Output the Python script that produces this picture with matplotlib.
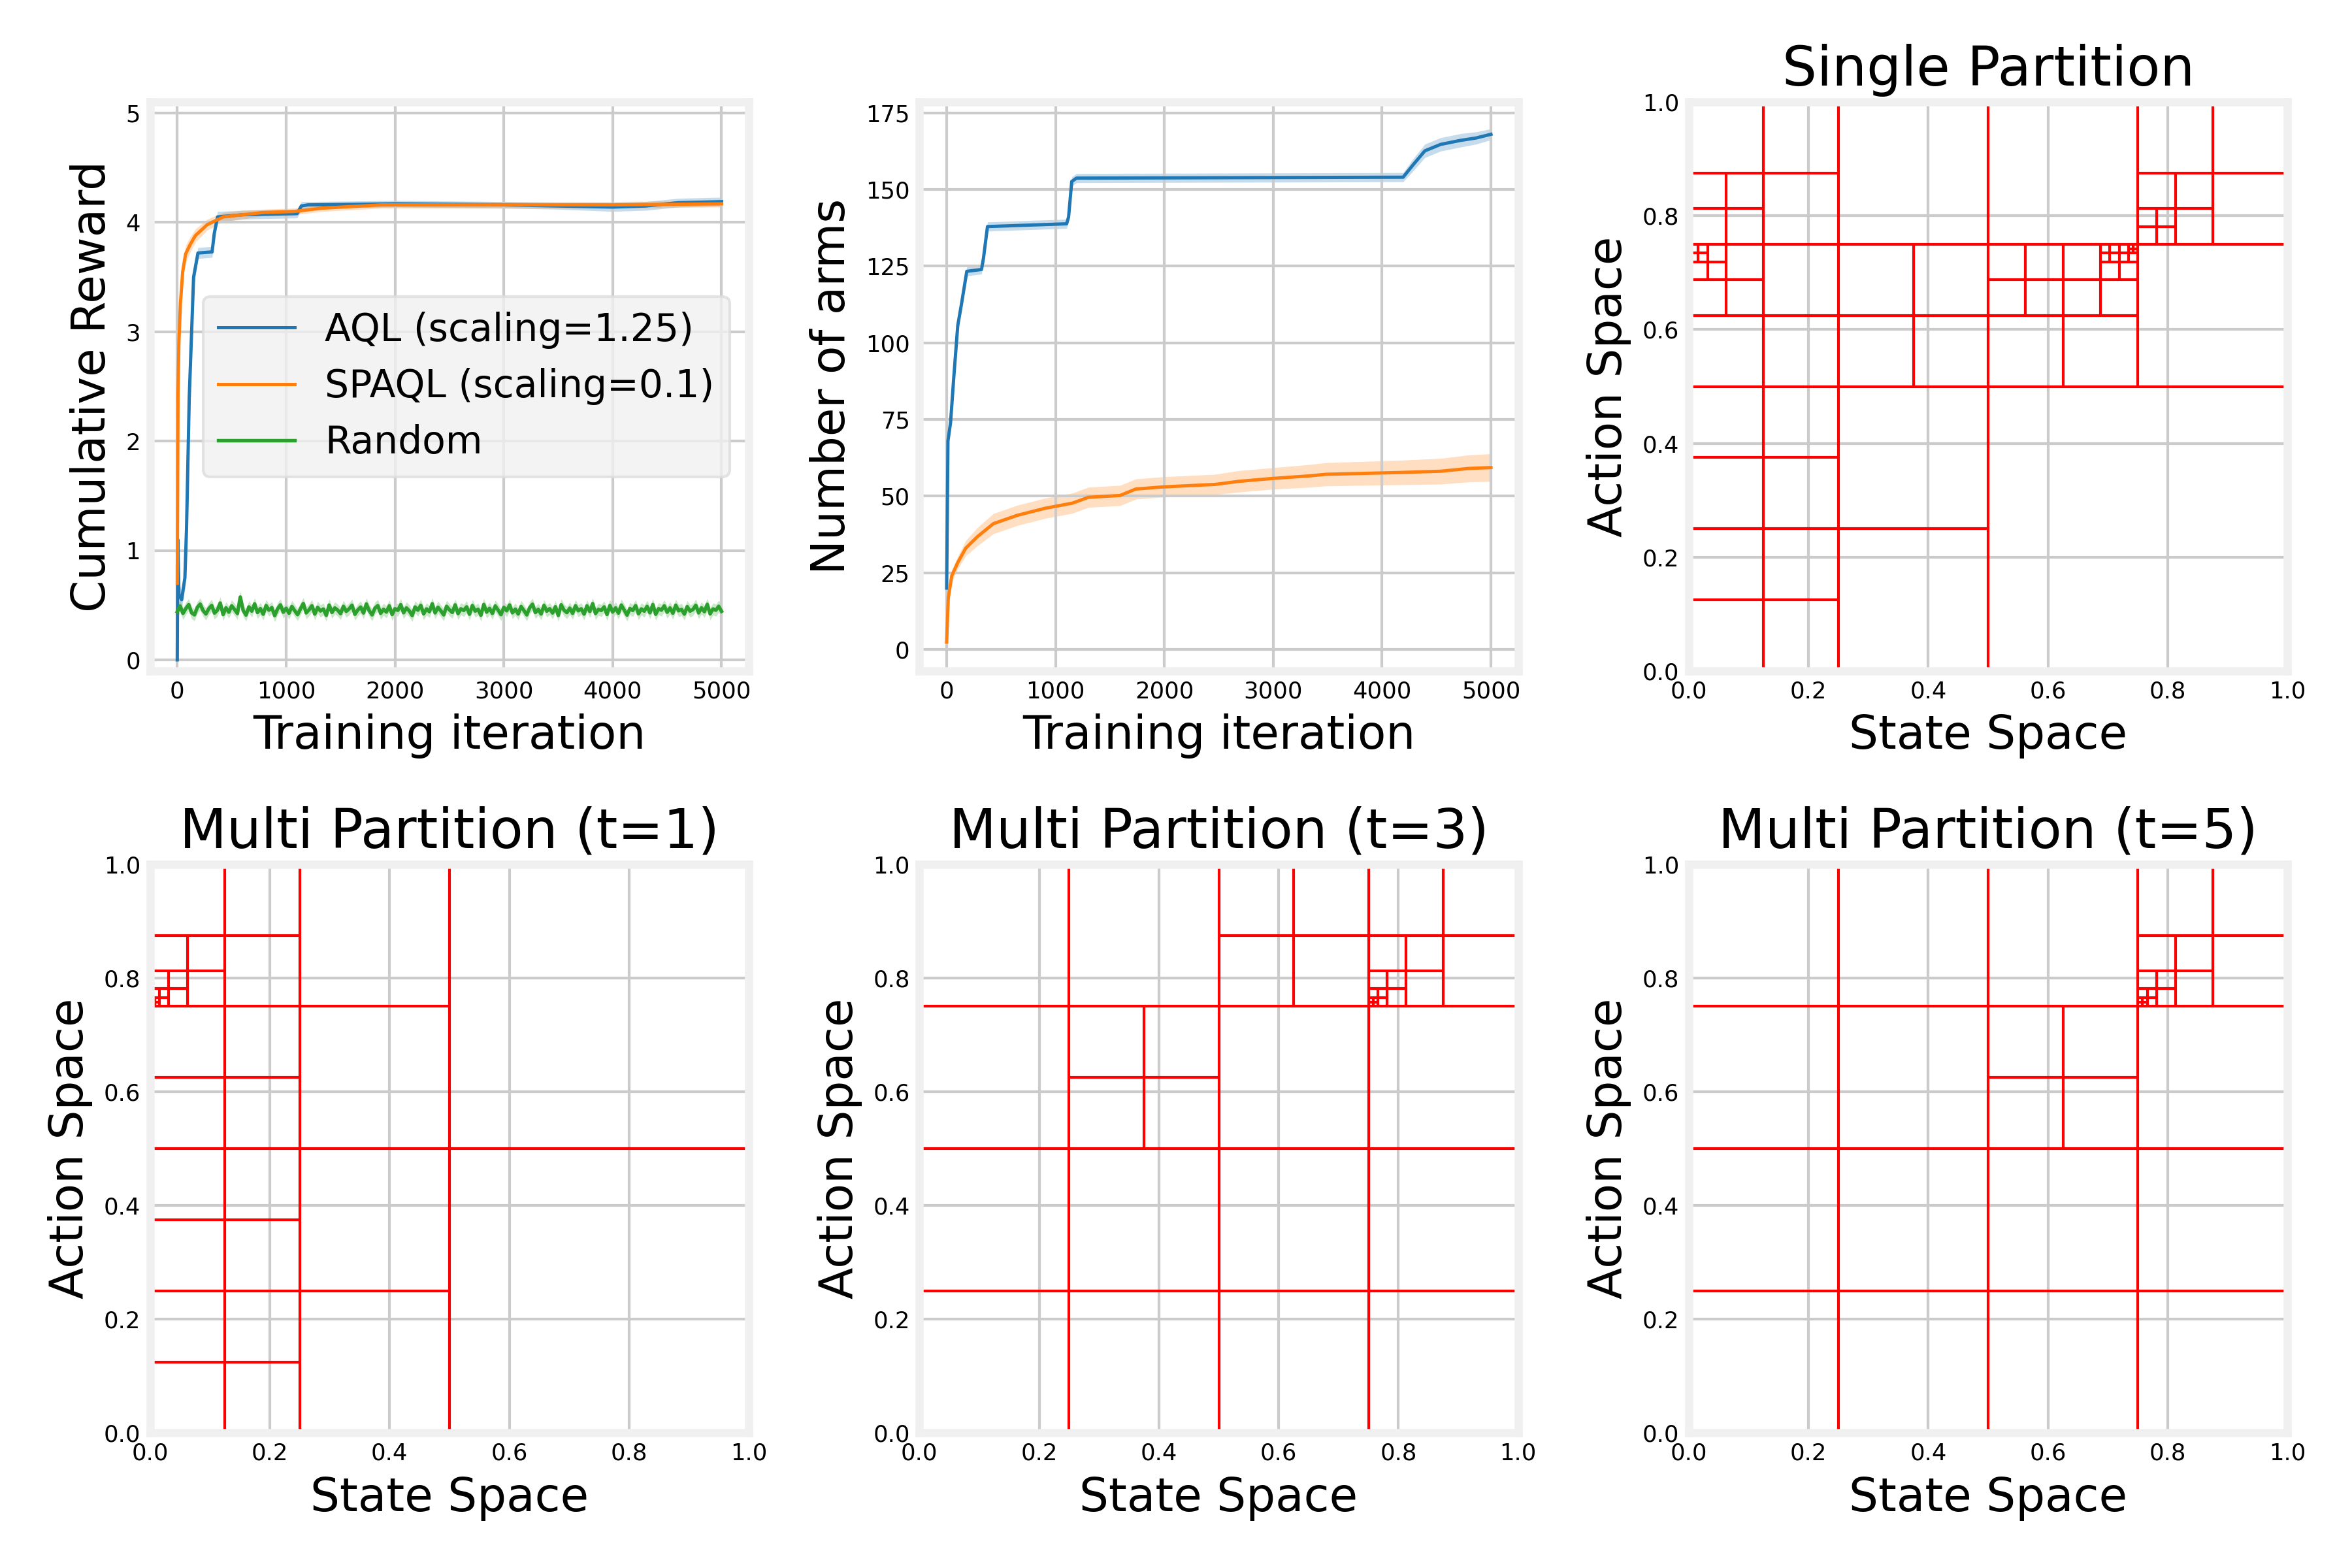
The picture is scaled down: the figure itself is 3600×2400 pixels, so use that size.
import numpy as np
import matplotlib
matplotlib.use("Agg")
import matplotlib.pyplot as plt

# ---- learning curves ----
aql_iter = [0, 5, 15, 40, 70, 85, 110, 150, 190, 320, 340, 370, 600, 1100, 1140, 1200, 2000, 3000, 3500, 4000, 4300, 4600, 5000]
aql_reward = [0.0, 1.10, 0.60, 0.55, 0.75, 1.20, 2.40, 3.50, 3.72, 3.73, 3.90, 4.05, 4.07, 4.08, 4.15, 4.16, 4.17, 4.16, 4.15, 4.14, 4.15, 4.18, 4.19]
aql_reward_err = [0.0, 0.15, 0.10, 0.08, 0.10, 0.15, 0.15, 0.10, 0.05, 0.05, 0.06, 0.05, 0.04, 0.04, 0.04, 0.03, 0.03, 0.03, 0.03, 0.04, 0.04, 0.04, 0.04]

spaql_iter = [0, 7, 15, 29, 50, 76, 120, 167, 276, 422, 600, 785, 1076, 1330, 1876, 3000, 4000, 5000]
spaql_reward = [0.70, 2.44, 2.90, 3.26, 3.55, 3.71, 3.80, 3.88, 3.98, 4.05, 4.07, 4.09, 4.10, 4.13, 4.16, 4.16, 4.16, 4.17]
spaql_reward_err = [0.10, 0.10, 0.10, 0.08, 0.08, 0.08, 0.07, 0.06, 0.05, 0.04, 0.04, 0.03, 0.03, 0.03, 0.03, 0.03, 0.03, 0.03]

# random policy reward (x1000), evenly spaced over 0..5000
random_reward = [440, 492, 425, 470, 505, 431, 412, 480, 510, 452, 420, 468, 498, 428, 455, 520, 415, 476, 437, 494,
                 461, 424, 575, 452, 410, 485, 446, 512, 433, 469, 418, 497, 455, 478, 405, 466, 503, 436, 472, 427,
                 488, 450, 414, 467, 515, 430, 458, 495, 419, 480, 447, 465, 408, 501, 434, 475, 455, 423, 490, 444,
                 467, 500, 417, 456, 483, 429, 511, 451, 412, 473, 496, 426, 462, 438, 494, 415, 468, 453, 505, 431,
                 475, 448, 406, 484, 455, 499, 421, 466, 441, 513, 430, 481, 449, 412, 490, 458, 434, 503, 423, 467,
                 452, 485, 418, 497, 446, 463, 409, 507, 437, 471, 425, 493, 455, 414, 481, 449, 502, 431, 464, 420,
                 488, 452, 412, 476, 509, 433, 462, 420, 498, 446, 468, 429, 486, 407, 504, 455, 432, 473, 426, 495,
                 449, 467, 419, 494, 443, 514, 424, 462, 452, 485, 416, 497, 438, 475, 428, 501, 457, 410, 470, 452,
                 496, 422, 466, 446, 489, 431, 506, 417, 468, 455, 494, 436, 475, 427, 500, 449, 462, 419, 487, 446,
                 461, 499, 430, 476, 441, 508, 421, 466, 454, 490, 444]
random_err = 0.055

aql_arms_iter = [0, 12, 36, 65, 102, 138, 185, 320, 338, 375, 1102, 1120, 1149, 1193, 4193, 4284, 4393, 4538, 4720, 4865, 5000]
aql_arms = [20, 68, 74, 88.5, 105.6, 113, 123.3, 123.9, 127.5, 137.9, 138.8, 141, 152.6, 153.7, 154, 158, 162.6, 164.7, 166, 166.8, 168]
aql_arms_err = [0.5, 2, 2, 2, 2, 2, 1.5, 1.5, 1.5, 1.5, 1.5, 1.5, 1.5, 1.5, 1.5, 2, 2.2, 2.2, 2.2, 2.0, 1.8]

spaql_arms_iter = [0, 15, 47, 102, 175, 284, 429, 647, 902, 1156, 1302, 1593, 1738, 1993, 2465, 2684, 2975, 3338, 3484, 4175, 4538, 4793, 5000]
spaql_arms = [2.4, 16.7, 24, 28.3, 33, 36.8, 41, 43.7, 46, 47.7, 49.6, 50.2, 52.3, 53, 53.8, 54.8, 55.7, 56.6, 57.1, 57.7, 58.1, 59, 59.3]
spaql_arms_err = [0.5, 1.5, 2, 2, 2.5, 3, 3.3, 3.3, 3.3, 3.3, 3.3, 3.3, 3.3, 3.3, 3.3, 3.5, 3.5, 3.7, 3.8, 4, 4.2, 4.4, 4.5]

# ---- partition trees: split nodes as (x, y, size) ----
single_nodes = [(0, 0, 1), (0, 0, 0.5), (0, 0, 0.25), (0, 0.25, 0.25),
                (0, 0.5, 0.5), (0, 0.75, 0.25), (0, 0.75, 0.125), (0, 0.5, 0.25),
                (0, 0.625, 0.125), (0, 0.6875, 0.0625), (0, 0.71875, 0.03125),
                (0.25, 0.5, 0.25), (0.5, 0.5, 0.5), (0.5, 0.5, 0.25),
                (0.5, 0.625, 0.125), (0.625, 0.625, 0.125), (0.6875, 0.6875, 0.0625),
                (0.6875, 0.71875, 0.03125), (0.71875, 0.71875, 0.03125),
                (0.734375, 0.734375, 0.015625),
                (0.75, 0.75, 0.25), (0.75, 0.75, 0.125), (0.75, 0.75, 0.0625)]

multi_t1_nodes = [(0, 0, 1), (0, 0, 0.5), (0, 0.5, 0.5), (0, 0, 0.25), (0, 0.25, 0.25),
                  (0, 0.5, 0.25), (0, 0.75, 0.25), (0, 0.75, 0.125), (0, 0.75, 0.0625),
                  (0, 0.75, 0.03125), (0, 0.75, 0.015625)]

multi_t3_nodes = [(0, 0, 1), (0, 0, 0.5), (0.5, 0, 0.5), (0, 0.5, 0.5), (0.5, 0.5, 0.5),
                  (0.25, 0.5, 0.25), (0.5, 0.75, 0.25), (0.75, 0.75, 0.25),
                  (0.75, 0.75, 0.125), (0.75, 0.75, 0.0625), (0.75, 0.75, 0.03125),
                  (0.75, 0.75, 0.015625)]

multi_t5_nodes = [(0, 0, 1), (0, 0, 0.5), (0.5, 0, 0.5), (0, 0.5, 0.5), (0.5, 0.5, 0.5),
                  (0.5, 0.5, 0.25), (0.75, 0.75, 0.25), (0.75, 0.75, 0.125),
                  (0.75, 0.75, 0.0625), (0.75, 0.75, 0.03125), (0.75, 0.75, 0.015625)]

partitions = [("Single Partition", single_nodes),
              ("Multi Partition (t=1)", multi_t1_nodes),
              ("Multi Partition (t=3)", multi_t3_nodes),
              ("Multi Partition (t=5)", multi_t5_nodes)]

plt.rcParams['axes.facecolor'] = 'white'
plt.rcParams['figure.facecolor'] = 'white'
plt.rcParams['axes.edgecolor'] = '#f0f0f0'
plt.rcParams['axes.linewidth'] = 3.0
plt.rcParams['grid.color'] = '#cbcbcb'
plt.rcParams['grid.linewidth'] = 1.0
plt.rcParams['xtick.major.size'] = 0
plt.rcParams['ytick.major.size'] = 0
plt.rcParams['xtick.labelsize'] = 8.5
plt.rcParams['ytick.labelsize'] = 8.5
plt.rcParams['axes.labelsize'] = 17
plt.rcParams['axes.titlesize'] = 20

fig, axes = plt.subplots(2, 3, figsize=(12, 8), dpi=300)
plt.subplots_adjust(left=0.0638, right=0.9726, bottom=0.0861, top=0.9349, wspace=0.285, hspace=0.34)

blue, orange, green = '#1f77b4', '#ff7f0e', '#2ca02c'

def band(ax, x, y, err, color, label, lw=1.2):
    y = np.array(y, dtype=float)
    err = np.array(err, dtype=float)
    ax.fill_between(x, y - err, y + err, color=color, alpha=0.25, lw=0)
    ax.plot(x, y, color=color, lw=lw, label=label)

# Cumulative reward
ax = axes[0, 0]
band(ax, aql_iter, aql_reward, aql_reward_err, blue, 'AQL (scaling=1.25)')
band(ax, spaql_iter, spaql_reward, spaql_reward_err, orange, 'SPAQL (scaling=0.1)')
rnd = np.array(random_reward) / 1000.0
rnd_x = np.linspace(0, 5000, len(rnd))
band(ax, rnd_x, rnd, np.full(len(rnd), random_err), green, 'Random', lw=1.3)
ax.set_ylim(-0.1, 5.1)
ax.set_xticks([0, 1000, 2000, 3000, 4000, 5000])
ax.set_yticks([0, 1, 2, 3, 4, 5])
ax.set_xlabel('Training iteration')
ax.set_ylabel('Cumulative Reward')
ax.grid(True)
leg = ax.legend(loc='center right', bbox_to_anchor=(1.0, 0.5), fontsize=14,
                fancybox=True, framealpha=0.8)
leg.get_frame().set_facecolor('#f0f0f0')
leg.get_frame().set_edgecolor('#dddddd')

# Number of arms
ax = axes[0, 1]
band(ax, aql_arms_iter, aql_arms, aql_arms_err, blue, 'AQL')
band(ax, spaql_arms_iter, spaql_arms, spaql_arms_err, orange, 'SPAQL')
ax.set_ylim(-7, 178.5)
ax.set_xticks([0, 1000, 2000, 3000, 4000, 5000])
ax.set_yticks([0, 25, 50, 75, 100, 125, 150, 175])
ax.set_xlabel('Training iteration')
ax.set_ylabel('Number of arms')
ax.grid(True)

# Partitions
part_axes = [axes[0, 2], axes[1, 0], axes[1, 1], axes[1, 2]]
for ax, (title, nodes) in zip(part_axes, partitions):
    for (x, y, s) in nodes:
        ax.vlines(x + s / 2, y, y + s, color='red', lw=1.0)
        ax.hlines(y + s / 2, x, x + s, color='red', lw=1.0)
    ax.set_xlim(0, 1)
    ax.set_ylim(0, 1)
    ax.set_xticks(np.arange(0, 1.01, 0.2))
    ax.set_yticks(np.arange(0, 1.01, 0.2))
    ax.set_title(title)
    ax.set_xlabel('State Space')
    ax.set_ylabel('Action Space')
    ax.grid(True)
    ax.set_axisbelow(True)

plt.savefig('out.png', dpi=300)
